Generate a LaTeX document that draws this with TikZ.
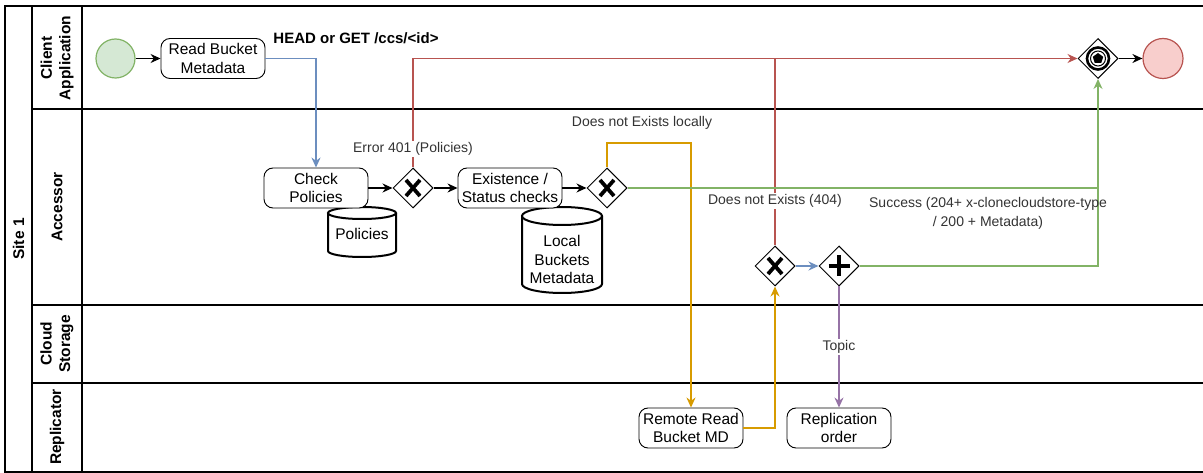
\documentclass[tikz,border=0pt]{standalone}
\usepackage{fontspec}
\setmainfont{Liberation Sans}
\usetikzlibrary{shapes.geometric,arrows.meta,calc}
\definecolor{cblue}{HTML}{6C8EBF}
\definecolor{cred}{HTML}{B85450}
\definecolor{cyel}{HTML}{D79B00}
\definecolor{cgreen}{HTML}{82B366}
\definecolor{cpurp}{HTML}{9673A6}
\definecolor{sfill}{HTML}{D5E8D4}
\definecolor{efill}{HTML}{F8CECC}
\newcommand\myNodeFont{\fontsize{15.5}{18.5}\selectfont}
\newcommand\myLblFont{\fontsize{14}{18.5}\selectfont}
\newcommand\myLaneFont{\fontsize{15.5}{18.5}\selectfont\bfseries}
\newcommand\gwX[1]{\draw[line width=3.8pt] ([shift={(-7,-8)}]#1.center) -- ([shift={(7,8)}]#1.center) ([shift={(-7,8)}]#1.center) -- ([shift={(7,-8)}]#1.center);}
\newcommand\gwPlus[1]{\draw[line width=4.8pt] ([shift={(-10.5,0)}]#1.center) -- ([shift={(10.5,0)}]#1.center) ([shift={(0,-10.5)}]#1.center) -- ([shift={(0,10.5)}]#1.center);}
\begin{document}
\begin{tikzpicture}[x=1pt,y=-1pt,
  task/.style={draw,rounded corners=9pt,minimum width=104pt,minimum height=40pt,align=center,inner sep=1pt,font=\myNodeFont,line width=0.9pt,fill=white},
  gw/.style={draw,diamond,minimum width=40pt,minimum height=40pt,inner sep=0pt,fill=white,line width=1pt},
  lbl/.style={font=\myLblFont,text=black!80,align=center,inner sep=1pt},
  lane/.style={font=\myLaneFont,rotate=90,align=center},
  arr/.style={-{Stealth[length=10pt,width=9pt]},line width=1.2pt},
  con/.style={line width=1.2pt},
  frame/.style={line width=1.1pt},
  cyl/.style={line width=2pt,fill=white}]
\clip (0,0) rectangle (1203,473);
\fill[white] (0,0) rectangle (1203,473);
% pool and lanes
\draw[frame] (1210,6) -- (5,6) -- (5,472) -- (1210,472);
\draw[frame] (32,6) -- (32,472);
\draw[frame] (82,6) -- (82,472);
\draw[frame] (32,109) -- (1210,109);
\draw[frame] (32,305) -- (1210,305);
\draw[frame] (32,383) -- (1210,383);
\node[lane] (ls) at (18.5,239) {Site 1};
\node[lane] (lc) at (57,58) {Client\\Application};
\node[lane] (la) at (57,207) {Accessor};
\node[lane] (lcs) at (57,344) {Cloud\\Storage};
\node[lane] (lr) at (57,427) {Replicator};
% data stores
\draw[cyl] (328,213) -- (328,251) arc[start angle=180,end angle=0,x radius=34,y radius=6] -- (396,213);
\draw[cyl] (362,213) ellipse[x radius=34,y radius=6];
\node[font=\myNodeFont,inner sep=0pt] (pol) at (362,234) {Policies};
\draw[cyl] (522,216) -- (522,284) arc[start angle=180,end angle=0,x radius=40,y radius=9] -- (602,216);
\draw[cyl] (562,216) ellipse[x radius=40,y radius=9];
\node[font=\myNodeFont,align=center,inner sep=0pt] (lbm) at (562,259.5) {Local\\Buckets\\Metadata};
% nodes
\node[circle,minimum size=39pt,draw=cgreen,fill=sfill,line width=1.2pt,inner sep=0pt] (start) at (115.5,58.5) {};
\node[task] (read) at (213,58.5) {Read Bucket\\Metadata};
\node[font=\fontsize{15}{18}\selectfont\bfseries,inner sep=0pt] (head) at (356,38) {HEAD or GET /ccs/<id>};
\node[task] (check) at (316,188) {Check\\Policies};
\node[gw] (g1) at (413,188) {};
\node[task] (exist) at (510,188) {Existence /\\Status checks};
\node[gw] (g2) at (607,188) {};
\node[gw] (g3) at (775,266) {};
\node[gw] (g4) at (839,266) {};
\node[gw] (gend) at (1098,58.5) {};
\node[circle,minimum size=40pt,draw=cred,fill=efill,line width=1.2pt,inner sep=0pt] (end) at (1163,58.5) {};
\node[task] (remote) at (691,428) {Remote Read\\Bucket MD};
\node[task] (repl) at (839,428) {Replication\\order};
% markers
\gwX{g1}
\gwX{g2}
\gwX{g3}
\gwPlus{g4}
\draw[line width=2.6pt] (gend.center) circle[radius=11];
\draw[line width=1pt] (gend.center) circle[radius=7.5];
\node[regular polygon,regular polygon sides=5,fill=black,inner sep=0pt,minimum size=11pt] (pent) at (gend.center) {};
% connectors
\draw[arr] (start) -- (read);
\draw[arr,cblue] (read.east) -| (check.north);
\draw[arr] (check) -- (g1);
\draw[arr] (g1) -- (exist);
\draw[arr] (exist) -- (g2);
\draw[arr,cred] (g1.north) |- (gend.west);
\coordinate (j404) at (g3.north |- gend.west);
\draw[con,cred] (g3.north) -- (j404);
\coordinate (ytop) at (607,143);
\draw[arr,cyel] (g2.north) -- (ytop) -| (remote.north);
\coordinate (gjoin) at (1098,188);
\draw[con,cgreen] (g2.east) -- (gjoin);
\draw[arr,cgreen] (g4.east) -| (gend.south);
\draw[arr,cyel] (remote.east) -| (g3.south);
\draw[arr,cblue] (g3) -- (g4);
\draw[arr,cpurp] (g4.south) -- (g4.south |- repl.north);
\draw[arr] (gend) -- (end);
% labels
\node[lbl,fill=white] (l401) at (413,149) {Error 401 (Policies)};
\node[lbl] (lloc) at (642,123) {Does not Exists locally};
\node[lbl,fill=white] (l404) at (775,201) {Does not Exists (404)};
\node[lbl] (lsucc) at (988,213.5) {Success (204+ x-clonecloudstore-type\\/ 200 + Metadata)};
\node[lbl,fill=white] (ltopic) at (839,347) {Topic};
\end{tikzpicture}
\end{document}
